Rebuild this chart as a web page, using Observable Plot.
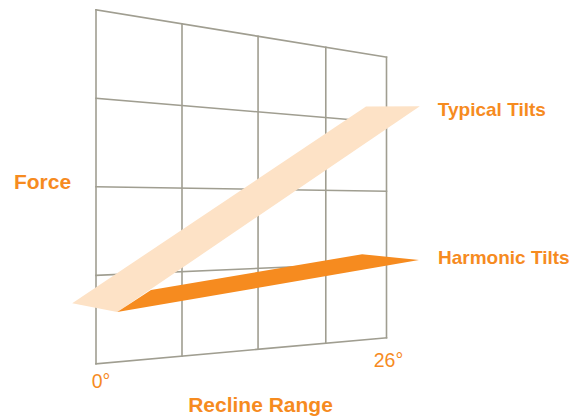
<!DOCTYPE html>
<html><head><meta charset="utf-8">
<script src="https://cdn.jsdelivr.net/npm/d3@7"></script>
<script src="https://cdn.jsdelivr.net/npm/@observablehq/plot@0.6"></script>
<style>
html,body{margin:0;padding:0;background:#fff;}
#chart svg{display:block;}
</style></head><body><div id="chart"></div>
<script>
// ---- Data (angle in degrees of recline, force in grid units) ----
const angleTicks = [0, 26];
const angleTickLabels = ["0°", "26°"];
const gridAngles = [0, 6.5, 13, 19.5, 26];
const gridForces = [0, 1, 2, 3, 4];
const seriesNames = ["Typical Tilts", "Harmonic Tilts"];
// ribbon outlines
const typicalAngle = [-1.66, 1.53, 29.88, 23.73];
const typicalForce = [0.70, 0.57, 3.30, 3.21];
const harmonicAngle = [1.53, 4.06, 23.31, 29.78];
const harmonicForce = [0.57, 0.80, 1.13, 1.02];

// ---- Layout / style ----
const W = 573, H = 417;
const orange = "#f68b1f", peach = "#fde2c6", gridColor = "#a09e91";
const font = "'Liberation Sans', Arial, Helvetica, sans-serif";
const angleMax = d3.max(gridAngles), forceMax = d3.max(gridForces);

// perspective plane: custom projection (angle, force) -> screen
const plane = {left: 95.5, right: 386, yBL: 363.3, yTL: 9.3, yBR: 337.3, yTR: 56.7, depth: 0.2616, bulge: 0.09};
const projection = d3.geoTransform({
  point(a, f) {
    const s = a / angleMax, t = f / forceMax;
    const p = s * (1 + plane.depth) / (1 + plane.depth * s);
    const yl = plane.yBL + (plane.yTL - plane.yBL) * t;
    const yr = plane.yBR + (plane.yTR - plane.yBR) * (t + plane.bulge * t * (1 - t));
    this.stream.point(plane.left + (plane.right - plane.left) * p, yl + (yr - yl) * p);
  }
});

// grid segments
const gridPts = [];
for (const a of gridAngles) gridPts.push({a, f: 0, k: "v" + a}, {a, f: forceMax, k: "v" + a});
for (const f of gridForces) gridPts.push({a: 0, f, k: "h" + f}, {a: angleMax, f, k: "h" + f});

const ribbon = (A, F, name) => ({
  type: "Feature", properties: {name},
  geometry: {type: "Polygon", coordinates: [[...A.map((a, i) => [a, F[i]]), [A[0], F[0]]]]}
});
const typical = ribbon(typicalAngle, typicalForce, seriesNames[0]);
const harmonic = ribbon(harmonicAngle, harmonicForce, seriesNames[1]);

const typicalLabel = [{name: seriesNames[0], a: typicalAngle[2], f: typicalForce[2]}];
const harmonicLabel = [{name: seriesNames[1], a: harmonicAngle[3], f: harmonicForce[3]}];
const ticks = angleTicks.map((a, i) => ({a, f: 0, label: angleTickLabels[i]}));

const labelStyle = {textAnchor: "start", fill: orange, fontSize: 19, fontWeight: "bold", fontFamily: font, lineAnchor: "middle"};
const titleStyle = {frameAnchor: "top-left", textAnchor: "middle", lineAnchor: "middle",
  fill: orange, fontSize: 21, fontWeight: "bold", fontFamily: font};

const chart = Plot.plot({
  width: W, height: H, margin: 0,
  projection,
  marks: [
    Plot.line(gridPts, {x: "a", y: "f", z: "k", stroke: gridColor, strokeWidth: 1.6, strokeLinecap: "square"}),
    Plot.geo([typical], {fill: peach, stroke: "none"}),
    Plot.geo([harmonic], {fill: orange, stroke: "none"}),
    Plot.text(typicalLabel, {x: "a", y: "f", text: "name", dx: 18, dy: 3.6, ...labelStyle}),
    Plot.text(harmonicLabel, {x: "a", y: "f", text: "name", dx: 19, dy: -2, ...labelStyle}),
    Plot.text([ticks[0]], {x: "a", y: "f", text: "label", dx: 5, dy: 18, fill: orange, fontSize: 19.5, fontFamily: font}),
    Plot.text([ticks[1]], {x: "a", y: "f", text: "label", dx: 2, dy: 23, fill: orange, fontSize: 19.5, fontFamily: font}),
    Plot.text(["Force"], {dx: 42, dy: 181.6, ...titleStyle}),
    Plot.text(["Recline Range"], {dx: 260, dy: 405, ...titleStyle})
  ]
});
document.getElementById("chart").append(chart);
</script></body></html>
